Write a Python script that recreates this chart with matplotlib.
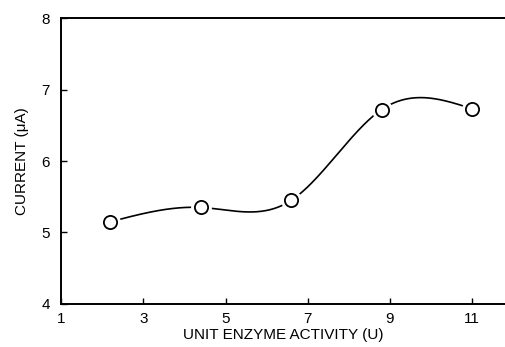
import numpy as np
import matplotlib.pyplot as plt

plt.rcParams['font.family'] = ['Liberation Sans', 'DejaVu Sans']

# data
activity = [2.2, 4.4, 6.6, 8.8, 11.0]
current = [5.15, 5.35, 5.45, 6.72, 6.73]
xticks = [1, 3, 5, 7, 9, 11]
yticks = [4, 5, 6, 7, 8]


def natural_spline(x, y, xs):
    x = np.asarray(x, float)
    y = np.asarray(y, float)
    n = len(x)
    h = np.diff(x)
    A = np.zeros((n, n))
    b = np.zeros(n)
    A[0, 0] = A[-1, -1] = 1
    for i in range(1, n - 1):
        A[i, i - 1] = h[i - 1]
        A[i, i] = 2 * (h[i - 1] + h[i])
        A[i, i + 1] = h[i]
        b[i] = 6 * ((y[i + 1] - y[i]) / h[i] - (y[i] - y[i - 1]) / h[i - 1])
    m = np.linalg.solve(A, b)
    idx = np.clip(np.searchsorted(x, xs) - 1, 0, n - 2)
    x0, x1 = x[idx], x[idx + 1]
    hh = x1 - x0
    t0, t1 = x1 - xs, xs - x0
    return (m[idx] * t0**3 / (6 * hh) + m[idx + 1] * t1**3 / (6 * hh)
            + (y[idx] / hh - m[idx] * hh / 6) * t0
            + (y[idx + 1] / hh - m[idx + 1] * hh / 6) * t1)


fig = plt.figure(figsize=(5.05, 3.47), dpi=100)
ax = fig.add_axes([0.121, 0.124, 0.879, 0.824])

xs = np.linspace(activity[0], activity[-1], 400)
ax.plot(xs, natural_spline(activity, current, xs), color='black', lw=1.2, zorder=2)
# white halo so the curve stops short of each circle
ax.plot(activity, current, 'o', ms=14, mfc='white', mec='white', zorder=3)
ax.plot(activity, current, 'o', ms=9.5, mfc='white', mec='black', mew=1.3, zorder=4)

ax.set_xlim(1, 11.8)
ax.set_ylim(4, 8)
ax.set_xticks(xticks)
ax.set_yticks(yticks)
ax.spines['right'].set_visible(False)
for s in ['left', 'bottom', 'top']:
    ax.spines[s].set_linewidth(1.4)
ax.tick_params(direction='in', length=4, width=1, labelsize=11)
ax.tick_params(axis='x', pad=6)
ax.tick_params(axis='y', pad=8)
ax.set_xlabel('UNIT ENZYME ACTIVITY (U)', fontsize=11, labelpad=1)
ax.set_ylabel('CURRENT (\u03bcA)', fontsize=11, labelpad=9)

fig.savefig('out.png', dpi=100)
